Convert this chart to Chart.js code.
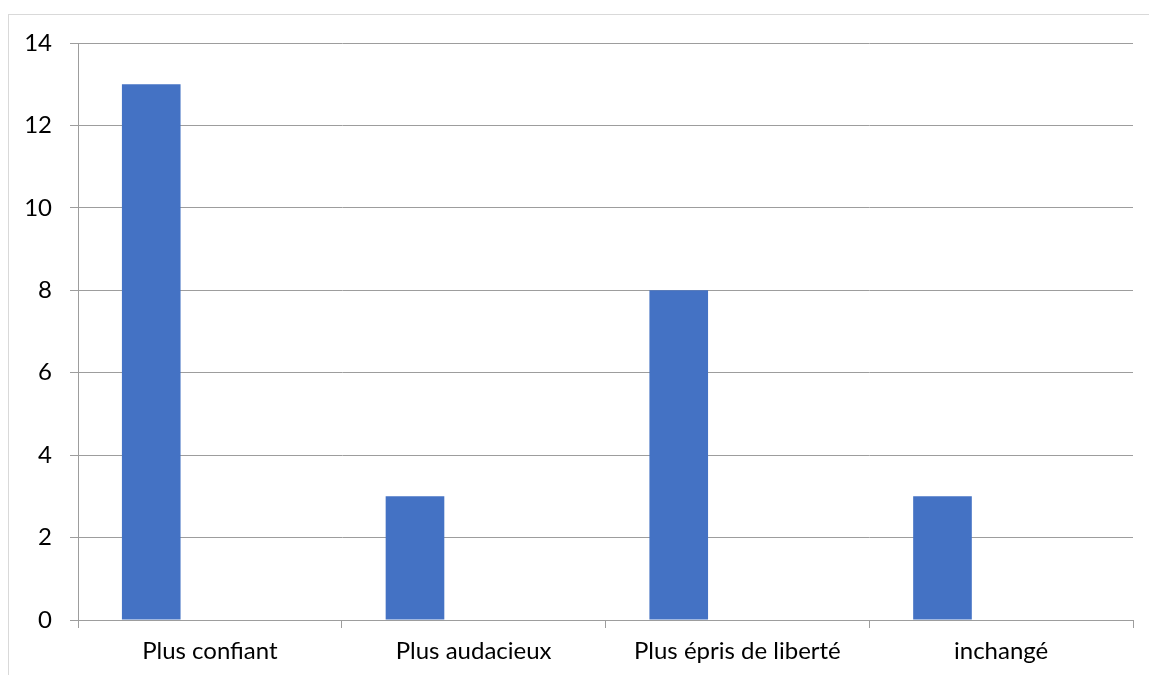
<!DOCTYPE html>
<html>
<head>
<meta charset="utf-8">
<script src="https://cdn.jsdelivr.net/npm/chart.js@4"></script>
<style>
  html, body { margin: 0; padding: 0; background: #fff; }
  #wrap { position: relative; width: 1149px; height: 675px; overflow: hidden; }
  #frame { position: absolute; left: 8px; top: 14px; width: 1200px; height: 700px; border: 1px solid #d9d9d9; }
  #chart1 { position: absolute; left: 0; top: 0; }
</style>
</head>
<body>
<div id="wrap">
  <div id="frame"></div>
  <canvas id="chart1" width="1149" height="675"></canvas>
</div>
<script>
// données
var categories = ['Plus confiant', 'Plus audacieux', 'Plus épris de liberté', 'inchangé'];
var serie1 = [13, 3, 8, 3];
// deux séries vides (colonnes sans valeurs dans le tableau d'origine)
var serie2 = [null, null, null, null];
var serie3 = [null, null, null, null];
var yTicks = [0, 2, 4, 6, 8, 10, 12, 14];

var barColor = '#4472C4';
var gridColor = '#9d9d9d';
var fontFamily = 'Lato, "Open Sans", sans-serif';

var ctx = document.getElementById('chart1');
var chart = new Chart(ctx, {
    type: 'bar',
    data: {
        labels: categories,
        datasets: [
            { label: 'Série 1', data: serie1, backgroundColor: barColor },
            { label: 'Série 2', data: serie2, backgroundColor: '#ED7D31' },
            { label: 'Série 3', data: serie3, backgroundColor: '#A5A5A5' }
        ]
    },
    options: {
        responsive: false,
        animation: false,
        layout: { padding: { left: 0, right: 16, top: 43, bottom: 0 } },
        datasets: {
            bar: { categoryPercentage: 0.667, barPercentage: 1.0 }
        },
        plugins: {
            legend: { display: false },
            tooltip: { enabled: false }
        },
        scales: {
            x: {
                offset: true,
                grid: {
                    offset: true,
                    drawOnChartArea: false,
                    drawTicks: true,
                    tickLength: 8,
                    color: gridColor
                },
                border: { display: true, color: gridColor },
                ticks: {
                    color: '#000',
                    font: { family: fontFamily, size: 24 },
                    maxRotation: 0,
                    padding: 9
                },
                afterFit: function (scale) { scale.height = 55; }
            },
            y: {
                min: yTicks[0],
                max: yTicks[yTicks.length - 1],
                afterBuildTicks: function (scale) {
                    scale.ticks = yTicks.map(function (v) { return { value: v }; });
                },
                grid: {
                    color: gridColor,
                    drawTicks: true,
                    tickLength: 8
                },
                border: { display: true, color: gridColor },
                ticks: {
                    color: '#000',
                    font: { family: fontFamily, size: 24 },
                    padding: 18
                },
                afterFit: function (scale) { scale.width = 78; }
            }
        }
    }
});
</script>
</body>
</html>
